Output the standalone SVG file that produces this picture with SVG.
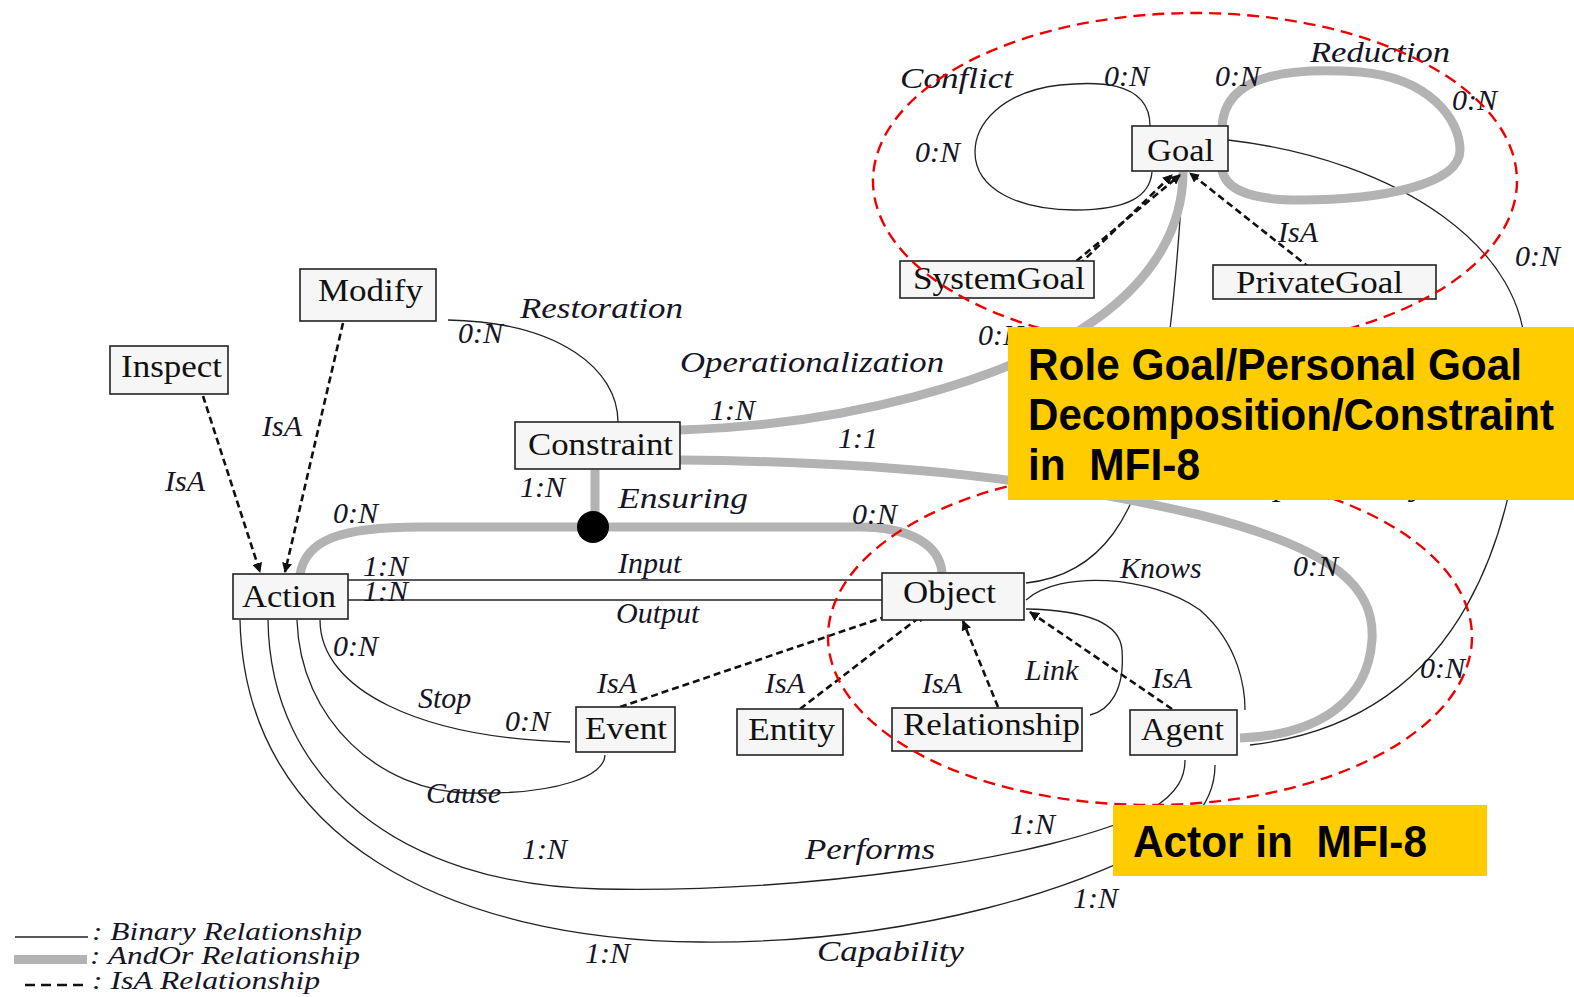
<svg xmlns="http://www.w3.org/2000/svg" width="1574" height="997" viewBox="0 0 1574 997">
<style>
.bin{fill:none;stroke:#222;stroke-width:1.3}
.andor{fill:none;stroke:#b3b3b3;stroke-width:9;stroke-linecap:butt}
.isa{fill:none;stroke:#111;stroke-width:2.6;stroke-dasharray:7,4}
.box{fill:#f6f6f6;stroke:#222;stroke-width:1.6}
.nt{font-family:"Liberation Serif","Times New Roman",serif;font-size:32px;fill:#111}
.lb{font-family:"Liberation Serif","Times New Roman",serif;font-size:30px;font-style:italic;fill:#151525}
.lg{font-family:"Liberation Serif","Times New Roman",serif;font-size:25px;font-style:italic;fill:#151525}
.red{fill:none;stroke:#ee0000;stroke-width:2.4;stroke-dasharray:12,7}
.yb{fill:#ffcc00}
.yt{font-family:"Liberation Sans",Arial,sans-serif;font-weight:bold;font-size:44px;fill:#000;white-space:pre}
</style>
<defs>
<marker id="ah" viewBox="0 0 10 10" refX="9" refY="5" markerWidth="10" markerHeight="10" markerUnits="userSpaceOnUse" orient="auto">
<path d="M0,0 L10,5 L0,10 z" fill="#111"/>
</marker>
</defs>

<g id="connectors">
<path class="bin" d="M1150,126 C1150,78 1090,82 1060,85 C1000,92 975,125 975,152 C975,190 1020,210 1075,210 C1130,210 1150,195 1152,172"/>
<path class="bin" d="M1228,140 C1400,160 1530,250 1525,360 C1520,520 1470,720 1250,745"/>
<path class="bin" d="M1183,172 C1178,260 1172,330 1160,400 C1140,520 1100,575 1026,583"/>
<path class="bin" d="M448,320 C560,322 618,370 618,422"/>
<path class="bin" d="M343,580 L882,580"/>
<path class="bin" d="M348,600 L882,600"/>
<path class="bin" d="M320,620 C320,690 420,738 570,742"/>
<path class="bin" d="M297,620 C300,720 380,792 470,793 C560,795 605,775 605,755"/>
<path class="bin" d="M268,620 C270,780 400,885 600,889 C800,893 1050,860 1150,810 C1180,792 1185,775 1185,760"/>
<path class="bin" d="M240,620 C245,840 450,940 700,942 C900,944 1100,890 1190,822 C1210,802 1215,782 1215,765"/>
<path class="bin" d="M1026,600 C1060,570 1150,575 1200,610 C1240,645 1245,690 1245,710"/>
<path class="bin" d="M1026,609 C1080,610 1120,620 1122,650 C1125,690 1110,710 1090,715"/>
<path class="andor" d="M1222,130 C1222,70 1300,68 1360,72 C1430,78 1460,120 1460,150 C1460,185 1380,200 1300,200 C1240,200 1225,185 1222,170"/>
<path class="andor" d="M680,430 C850,425 1000,380 1080,330 C1160,280 1183,220 1183,172"/>
<path class="andor" d="M680,460 C900,462 1050,480 1200,515 C1340,550 1375,590 1372,640 C1368,700 1320,735 1240,738"/>
<path class="andor" d="M300,575 C305,540 340,527 420,527 L860,527 C910,527 940,545 942,573"/>
<path class="andor" d="M595,470 L595,527"/>
<circle cx="593" cy="527" r="16" fill="#000"/>
<path class="isa" marker-end="url(#ah)" d="M1055,288 L1172,175"/>
<path class="isa" marker-end="url(#ah)" d="M1068,268 L1180,175"/>
<path class="isa" marker-end="url(#ah)" d="M1310,268 L1190,173"/>
<path class="isa" marker-end="url(#ah)" d="M203,396 L260,572"/>
<path class="isa" marker-end="url(#ah)" d="M343,323 L285,572"/>
<path class="isa" marker-end="url(#ah)" d="M620,707 L905,610"/>
<path class="isa" marker-end="url(#ah)" d="M800,709 L925,613"/>
<path class="isa" marker-end="url(#ah)" d="M998,707 L963,621"/>
<path class="isa" marker-end="url(#ah)" d="M1172,709 L1030,612"/>
</g>

<g id="labels">
<text class="lb" x="900" y="88" textLength="113" lengthAdjust="spacingAndGlyphs">Conflict</text>
<text class="lb" x="1104" y="86">0:N</text>
<text class="lb" x="1215" y="86">0:N</text>
<text class="lb" x="1310" y="62" textLength="140" lengthAdjust="spacingAndGlyphs">Reduction</text>
<text class="lb" x="1452" y="110">0:N</text>
<text class="lb" x="915" y="162">0:N</text>
<text class="lb" x="1278" y="242">IsA</text>
<text class="lb" x="1515" y="266">0:N</text>
<text class="lb" x="978" y="345">0:N</text>
<text class="lb" x="520" y="318" textLength="163" lengthAdjust="spacingAndGlyphs">Restoration</text>
<text class="lb" x="458" y="343">0:N</text>
<text class="lb" x="680" y="372" textLength="264" lengthAdjust="spacingAndGlyphs">Operationalization</text>
<text class="lb" x="262" y="436">IsA</text>
<text class="lb" x="165" y="491">IsA</text>
<text class="lb" x="710" y="420">1:N</text>
<text class="lb" x="838" y="448">1:1</text>
<text class="lb" x="520" y="497">1:N</text>
<text class="lb" x="618" y="508" textLength="130" lengthAdjust="spacingAndGlyphs">Ensuring</text>
<text class="lb" x="333" y="523">0:N</text>
<text class="lb" x="852" y="524">0:N</text>
<text class="lb" x="618" y="573">Input</text>
<text class="lb" x="363" y="576" font-size="27">1:N</text>
<text class="lb" x="363" y="601" font-size="27">1:N</text>
<text class="lb" x="616" y="623">Output</text>
<text class="lb" x="1120" y="578">Knows</text>
<text class="lb" x="1293" y="576">0:N</text>
<text class="lb" x="333" y="656">0:N</text>
<text class="lb" x="597" y="693">IsA</text>
<text class="lb" x="765" y="693">IsA</text>
<text class="lb" x="922" y="693">IsA</text>
<text class="lb" x="1025" y="680">Link</text>
<text class="lb" x="1152" y="688">IsA</text>
<text class="lb" x="1420" y="678">0:N</text>
<text class="lb" x="418" y="708">Stop</text>
<text class="lb" x="505" y="731">0:N</text>
<text class="lb" x="426" y="803">Cause</text>
<text class="lb" x="522" y="859">1:N</text>
<text class="lb" x="805" y="859" textLength="130" lengthAdjust="spacingAndGlyphs">Performs</text>
<text class="lb" x="1010" y="834">1:N</text>
<text class="lb" x="1073" y="908">1:N</text>
<text class="lb" x="585" y="963">1:N</text>
<text class="lb" x="817" y="961" textLength="147" lengthAdjust="spacingAndGlyphs">Capability</text>
<text class="lb" x="1222" y="496" textLength="205" lengthAdjust="spacingAndGlyphs">Responsibility</text>
</g>

<g id="node-goal"><rect class="box" x="1132" y="126" width="96" height="45"/><text class="nt" x="1147" y="161" textLength="67" lengthAdjust="spacingAndGlyphs">Goal</text></g>
<g id="node-systemgoal"><rect class="box" x="900" y="261" width="194" height="37"/><text class="nt" x="913" y="289" textLength="172" lengthAdjust="spacingAndGlyphs">SystemGoal</text></g>
<g id="node-privategoal"><rect class="box" x="1213" y="265" width="223" height="34"/><text class="nt" x="1236" y="293" textLength="167" lengthAdjust="spacingAndGlyphs">PrivateGoal</text></g>
<g id="node-modify"><rect class="box" x="300" y="269" width="136" height="52"/><text class="nt" x="318" y="301" textLength="105" lengthAdjust="spacingAndGlyphs">Modify</text></g>
<g id="node-inspect"><rect class="box" x="110" y="346" width="118" height="48"/><text class="nt" x="121" y="377" textLength="101" lengthAdjust="spacingAndGlyphs">Inspect</text></g>
<g id="node-constraint"><rect class="box" x="515" y="422" width="165" height="47"/><text class="nt" x="528" y="455" textLength="145" lengthAdjust="spacingAndGlyphs">Constraint</text></g>
<g id="node-action"><rect class="box" x="233" y="574" width="115" height="45"/><text class="nt" x="242" y="607" textLength="94" lengthAdjust="spacingAndGlyphs">Action</text></g>
<g id="node-object"><rect class="box" x="882" y="573" width="142" height="47"/><text class="nt" x="903" y="603" textLength="93" lengthAdjust="spacingAndGlyphs">Object</text></g>
<g id="node-event"><rect class="box" x="576" y="707" width="99" height="45"/><text class="nt" x="585" y="739" textLength="82" lengthAdjust="spacingAndGlyphs">Event</text></g>
<g id="node-entity"><rect class="box" x="737" y="709" width="106" height="46"/><text class="nt" x="748" y="740" textLength="87" lengthAdjust="spacingAndGlyphs">Entity</text></g>
<g id="node-relationship"><rect class="box" x="892" y="708" width="190" height="43"/><text class="nt" x="903" y="735" textLength="177" lengthAdjust="spacingAndGlyphs">Relationship</text></g>
<g id="node-agent"><rect class="box" x="1130" y="710" width="107" height="45"/><text class="nt" x="1141" y="740" textLength="83" lengthAdjust="spacingAndGlyphs">Agent</text></g>

<g id="highlights">
<ellipse class="red" cx="1195" cy="181" rx="322" ry="168"/>
<ellipse class="red" cx="1150" cy="637" rx="322" ry="168"/>
</g>

<g id="callout-goal">
<rect class="yb" x="1008" y="327" width="566" height="173"/>
<text class="yt" x="1028" y="380" textLength="494" lengthAdjust="spacingAndGlyphs">Role Goal/Personal Goal</text>
<text class="yt" x="1028" y="430" textLength="526" lengthAdjust="spacingAndGlyphs">Decomposition/Constraint</text>
<text class="yt" x="1028" y="480" textLength="172" lengthAdjust="spacingAndGlyphs">in  MFI-8</text>
</g>
<g id="callout-actor">
<rect class="yb" x="1113" y="805" width="374" height="71"/>
<text class="yt" x="1133" y="857" textLength="294" lengthAdjust="spacingAndGlyphs">Actor in  MFI-8</text>
</g>

<g id="legend">
<line x1="15" y1="937" x2="88" y2="937" stroke="#222" stroke-width="1.3"/>
<text class="lg" x="92" y="940" textLength="270" lengthAdjust="spacingAndGlyphs">: Binary Relationship</text>
<rect x="14" y="955" width="73" height="9" fill="#b3b3b3"/>
<text class="lg" x="90" y="964" textLength="270" lengthAdjust="spacingAndGlyphs">: AndOr Relationship</text>
<line x1="25" y1="985" x2="86" y2="985" stroke="#111" stroke-width="2.4" stroke-dasharray="10,6"/>
<text class="lg" x="92" y="989" textLength="228" lengthAdjust="spacingAndGlyphs">: IsA Relationship</text>
</g>
</svg>
